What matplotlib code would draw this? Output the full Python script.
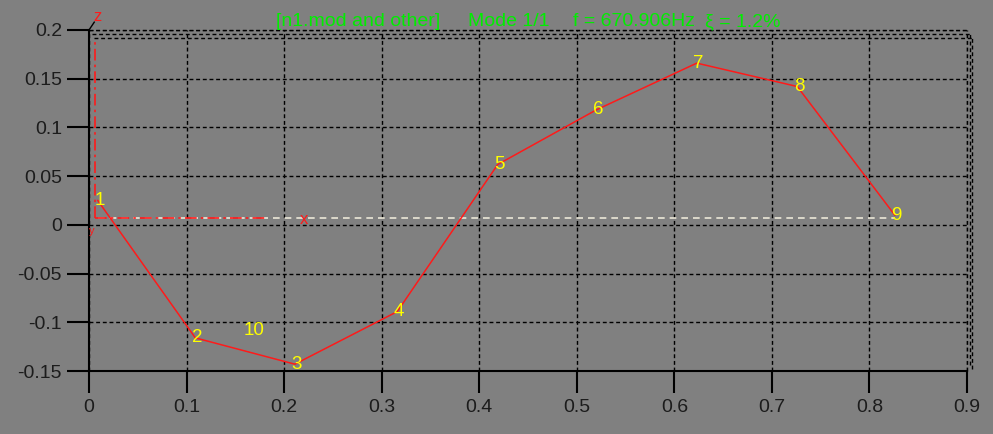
import matplotlib
matplotlib.use("Agg")
import matplotlib.pyplot as plt
import matplotlib.transforms as mtransforms

plt.rcParams["font.family"] = ["Liberation Sans", "DejaVu Sans"]

# ------- MODE SHAPE DATA ----------
node_ids = ["1", "2", "3", "4", "5", "6", "7", "8", "9"]
node_x   = [0.009, 0.109, 0.211, 0.316, 0.419, 0.520, 0.623, 0.726, 0.826]
node_z   = [0.025, -0.116, -0.143, -0.089, 0.062, 0.118, 0.166, 0.142, 0.010]

# node 10 has no element attached, only its label is drawn
free_id = "10"
free_x  = 0.169
free_z  = -0.108

undeformed_z = 0.007

xticks = [0, 0.1, 0.2, 0.3, 0.4, 0.5, 0.6, 0.7, 0.8, 0.9]
xtick_labels = ["0", "0.1", "0.2", "0.3", "0.4", "0.5", "0.6", "0.7", "0.8", "0.9"]
yticks = [-0.15, -0.1, -0.05, 0, 0.05, 0.1, 0.15, 0.2]
ytick_labels = ["-0.15", "-0.1", "-0.05", "0", "0.05", "0.1", "0.15", "0.2"]

title_parts = ["[n1.mod and other]", "Mode 1/1", "f = 670.906Hz", "ξ = 1.2%"]
title_px    = [276, 468, 573, 705]

BG    = "#808080"
INK   = "#1c1c1c"
RED   = "#ff1a1a"
YEL   = "#ffff00"
GREEN = "#00ee00"

W, H = 993, 434
fig = plt.figure(figsize=(W / 100, H / 100), dpi=100, facecolor=BG)
ax = fig.add_axes([89 / W, (H - 371) / H, (967 - 89) / W, (371 - 30) / H])
ax.set_facecolor(BG)
ax.set_xlim(0, 0.9)
ax.set_ylim(-0.15, 0.2)

ax.set_xticks(xticks)
ax.set_xticklabels(xtick_labels)
ax.set_yticks(yticks)
ax.set_yticklabels(ytick_labels)
ax.tick_params(direction="out", length=15.5, width=1.5, color="black",
               labelcolor=INK, labelsize=14)
ax.tick_params(axis="x", pad=5)
ax.tick_params(axis="y", pad=4)

for side in ["top", "right"]:
    ax.spines[side].set_visible(False)
for side in ["left", "bottom"]:
    ax.spines[side].set_linewidth(1.5)
    ax.spines[side].set_color("black")

dash = (0, (2.8, 2.0))
ax.grid(True, color="black", linestyle=dash, linewidth=1.0)
ax.set_axisbelow(True)

# ------- 3D BOX OUTLINE (top and right faces) ----------
def px_shift(dx, dy):
    return ax.transAxes + mtransforms.Affine2D().translate(dx, -dy)

box_kw = dict(color="black", linestyle=dash, linewidth=1.0, clip_on=False)
ax.plot([0, 1], [1, 1], transform=ax.transAxes, **box_kw)
for dx, dy in [(3, 4), (5, 8)]:
    ax.plot([0, 1], [1, 1], transform=px_shift(dx, dy), **box_kw)
    ax.plot([1, 1], [0.03, 1], transform=px_shift(dx, dy), **box_kw)
ax.plot([1, 1], [0, 1], transform=ax.transAxes, **box_kw)
ax.plot([0, 0.006], [1, 1.023], transform=ax.transAxes, color="black",
        linewidth=1.0, clip_on=False)

# ------- UNDEFORMED GEOMETRY AND COORDINATE TRIAD ----------
ax.plot([node_x[0], node_x[-1]], [undeformed_z, undeformed_z],
        color="#ece8d8", linestyle=(0, (4, 3)), linewidth=1.2, zorder=3)
ax.plot([0.006, 0.18], [undeformed_z, undeformed_z], color=RED,
        linestyle=(0, (7, 2.5, 1.5, 2.5)), linewidth=1.2, zorder=4)
ax.plot([0.006, 0.006], [undeformed_z, 0.19], color=RED,
        linestyle=(0, (7, 2.5, 1.5, 2.5)), linewidth=1.2, zorder=4)
ax.text(0.22, undeformed_z - 0.001, "x", color=RED, fontsize=12,
        ha="center", va="center", zorder=5)
ax.text(0.009, 0.214, "z", color=RED, fontsize=12, ha="center",
        va="center", clip_on=False, zorder=5)
ax.text(0.003, -0.006, "y", color=RED, fontsize=8, ha="center",
        va="center", zorder=5)

# ------- DEFORMED MODE SHAPE ----------
ax.plot(node_x, node_z, color=RED, linewidth=1.1, zorder=6)
for nid, x, z in zip(node_ids, node_x, node_z):
    ax.text(x + 0.002, z, nid, color=YEL, fontsize=13.5,
            ha="center", va="center", zorder=7)
ax.text(free_x, free_z, free_id, color=YEL, fontsize=13.5,
        ha="center", va="center", zorder=7)

# ------- HEADER ----------
for part, px in zip(title_parts, title_px):
    fig.text(px / W, 1 - 22 / H, part, color=GREEN, fontsize=14,
             ha="left", va="center")

fig.savefig("out.png", dpi=100, facecolor=BG)
